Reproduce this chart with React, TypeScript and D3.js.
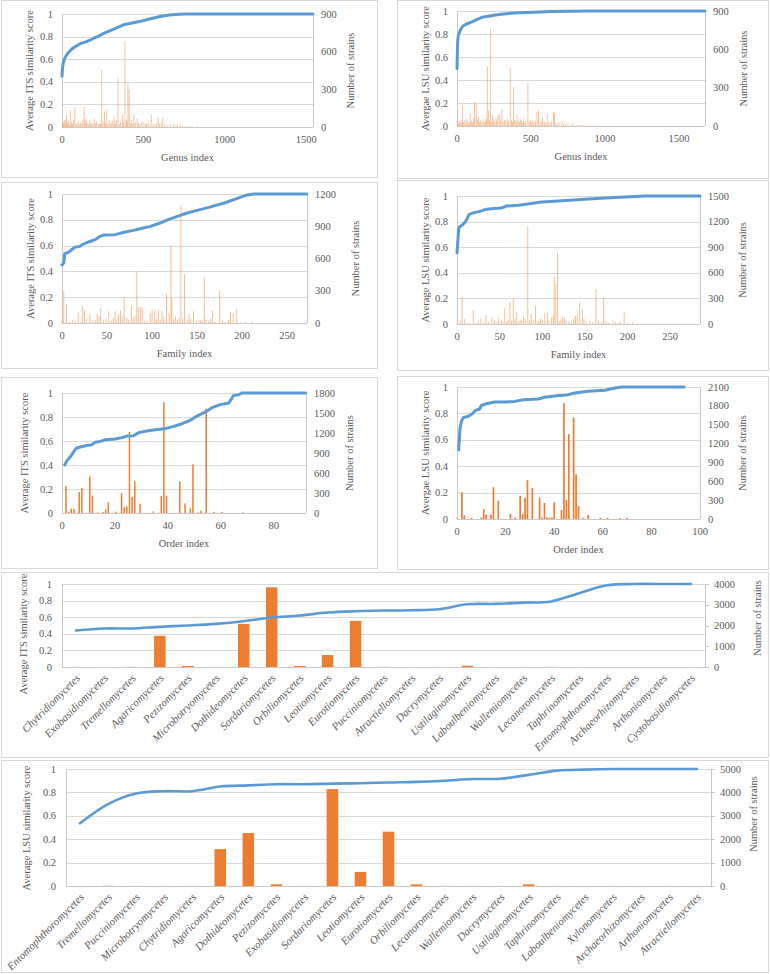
import React from 'react';
import * as d3 from 'd3';

type Pt = [number, number];

// ---------------- DATA ----------------
const genusItsCurve: Pt[] = [[0,0.45],[3,0.52],[8,0.57],[15,0.6],[25,0.63],[40,0.66],[60,0.69],[85,0.715],[116,0.74],[150,0.755],[175,0.77],[200,0.79],[218,0.80],[260,0.83],[300,0.855],[340,0.88],[381,0.905],[430,0.92],[483,0.935],[530,0.953],[564,0.965],[610,0.98],[660,0.992],[720,0.998],[760,1.0],[1542,1.0]];
const genusItsBars: Pt[] = [[3,20],[9,35],[14,56],[18,25],[24,60],[28,96],[33,30],[40,45],[46,15],[51,136],[58,40],[64,25],[70,55],[79,154],[86,20],[92,30],[100,45],[108,20],[115,35],[122,25],[128,60],[136,162],[142,30],[147,69],[152,40],[160,25],[168,50],[175,20],[182,35],[190,25],[198,69],[205,30],[212,45],[225,20],[232,35],[238,25],[244,455],[252,40],[261,122],[268,30],[275,144],[282,25],[290,50],[298,20],[305,35],[312,45],[320,82],[328,30],[335,55],[344,389],[352,25],[360,40],[371,96],[378,35],[387,682],[395,60],[400,45],[405,349],[413,296],[420,30],[428,55],[435,25],[442,104],[450,35],[462,69],[470,30],[480,20],[490,40],[503,43],[512,25],[520,30],[530,35],[548,96],[560,25],[570,20],[580,30],[591,77],[600,25],[610,35],[619,77],[630,20],[650,15],[665,20],[686,24],[700,12],[710,18],[727,29],[740,10],[760,8],[780,6],[800,5],[830,4],[860,3]];

const genusLsuCurve: Pt[] = [[0,0.50],[2,0.62],[4,0.73],[8,0.78],[15,0.81],[25,0.84],[40,0.87],[60,0.885],[101,0.905],[140,0.93],[169,0.945],[210,0.955],[259,0.965],[330,0.976],[416,0.985],[520,0.99],[641,0.995],[780,0.998],[866,1.0],[1676,1.0]];
const genusLsuBars: Pt[] = [[3,30],[8,15],[14,40],[20,25],[27,50],[33,20],[38,154],[45,30],[52,45],[60,20],[66,55],[74,35],[82,25],[90,97],[98,40],[105,30],[112,60],[119,188],[130,175],[137,50],[146,71],[153,35],[160,45],[168,25],[176,55],[184,30],[192,40],[200,60],[205,468],[214,123],[220,45],[227,764],[234,35],[241,84],[248,50],[256,30],[264,60],[270,40],[277,84],[288,92],[295,45],[304,128],[312,30],[320,50],[330,40],[340,60],[348,35],[360,455],[368,45],[375,30],[382,306],[390,50],[398,35],[405,84],[413,40],[420,30],[427,65],[435,45],[442,30],[450,55],[458,25],[466,40],[479,332],[488,35],[496,50],[505,30],[512,45],[520,25],[530,40],[540,110],[551,123],[560,30],[570,35],[578,71],[590,40],[600,25],[610,97],[620,30],[630,20],[640,35],[652,110],[659,97],[668,25],[680,20],[690,30],[709,37],[720,15],[735,12],[750,20],[776,18],[790,10],[810,8],[830,12],[850,6],[870,5],[890,4],[920,3]];

const familyItsCurve: Pt[] = [[0,0.45],[2,0.465],[3,0.537],[7,0.548],[11,0.57],[14,0.587],[20,0.594],[23,0.61],[30,0.63],[37,0.646],[41,0.667],[46,0.682],[59,0.685],[69,0.703],[78,0.716],[87,0.731],[98,0.749],[109,0.775],[117,0.80],[128,0.827],[139,0.853],[150,0.873],[165,0.90],[180,0.93],[194,0.964],[204,0.99],[213,1.0],[272,1.0]];
const familyItsBars: Pt[] = [[0,20],[2,301],[5,180],[8,10],[12,30],[15,20],[18,99],[21,15],[23,161],[25,124],[27,40],[31,78],[34,25],[37,30],[39,84],[41,60],[43,140],[46,25],[49,40],[52,109],[55,20],[57,45],[59,109],[61,30],[63,80],[65,115],[67,60],[69,239],[72,47],[74,30],[77,164],[79,50],[81,70],[83,481],[85,146],[87,146],[89,140],[92,20],[95,15],[98,90],[100,124],[103,115],[105,40],[107,115],[109,30],[111,115],[113,60],[116,273],[119,90],[121,719],[122,226],[124,40],[126,60],[128,30],[130,50],[132,1091],[134,40],[136,456],[139,30],[141,84],[143,40],[146,109],[149,20],[152,25],[154,31],[156,20],[158,425],[160,30],[163,20],[165,40],[167,115],[170,15],[175,301],[178,20],[181,10],[185,30],[187,102],[190,90],[194,133],[198,10],[204,8],[211,16]];

const familyLsuCurve: Pt[] = [[0,0.556],[2,0.745],[3,0.758],[7,0.777],[11,0.81],[14,0.855],[19,0.868],[27,0.88],[33,0.894],[40,0.90],[52,0.906],[58,0.922],[72,0.927],[83,0.938],[99,0.953],[119,0.961],[150,0.974],[174,0.984],[197,0.992],[221,1.0],[285,1.0]];
const familyLsuBars: Pt[] = [[1,15],[4,40],[6,312],[9,58],[12,20],[15,10],[19,164],[22,15],[25,30],[28,66],[31,20],[34,105],[37,25],[41,86],[44,40],[47,30],[49,74],[52,55],[54,25],[56,183],[58,30],[60,45],[62,253],[64,40],[66,292],[68,60],[70,144],[72,30],[74,50],[76,40],[78,97],[80,60],[83,1145],[85,40],[87,117],[89,50],[92,210],[94,40],[96,30],[98,60],[100,50],[103,132],[106,132],[108,40],[111,74],[113,90],[114,553],[116,464],[118,834],[120,30],[122,60],[124,86],[126,70],[128,40],[131,30],[134,20],[137,60],[139,97],[141,113],[144,253],[147,175],[149,60],[152,30],[156,39],[159,20],[163,409],[166,40],[169,20],[172,308],[175,30],[178,15],[183,39],[186,25],[189,20],[192,30],[196,144],[200,10],[206,19],[212,8]];

const orderItsCurve: Pt[] = [[1,0.40],[2,0.44],[3.4,0.475],[4.4,0.51],[5.4,0.54],[6.9,0.55],[8.2,0.556],[9.4,0.564],[11,0.566],[12.6,0.59],[14.5,0.597],[16.4,0.61],[20,0.617],[22.7,0.628],[24.6,0.642],[27,0.644],[29,0.67],[32,0.683],[35.3,0.694],[39,0.703],[42.2,0.722],[45.3,0.744],[48.5,0.772],[51,0.808],[54.2,0.842],[56.7,0.878],[59.8,0.903],[63,0.917],[64.9,0.98],[66.8,0.985],[68,1.0],[92,1.0]];
const orderItsBars: Pt[] = [[1,400],[2,15],[3,65],[4,65],[6,315],[7,375],[10,550],[11,260],[13,10],[15,15],[16,55],[17,160],[19,5],[20,20],[22,300],[23,85],[24,100],[25,1215],[26,240],[27,475],[29,140],[34,25],[36,5],[37,255],[38,1665],[39,260],[44,475],[46,145],[48,70],[49,730],[51,10],[52,35],[54,1565],[57,15],[60,15],[68,10]];

const orderLsuCurve: Pt[] = [[0.7,0.524],[1.2,0.676],[1.8,0.74],[2.7,0.77],[4.5,0.777],[6.2,0.795],[7.6,0.823],[9.3,0.833],[10,0.86],[12.1,0.873],[15.5,0.886],[19.6,0.886],[23.8,0.891],[27.2,0.904],[33.4,0.909],[36.1,0.922],[40.9,0.934],[45.7,0.942],[48.5,0.954],[54,0.967],[60.9,0.975],[65,0.992],[67.7,1.0],[93.5,1.0]];
const orderLsuBars: Pt[] = [[0,10],[2,425],[3,58],[6,21],[10,21],[11,154],[12,69],[14,69],[15,505],[17,292],[22,80],[24,21],[26,367],[27,80],[28,340],[29,617],[31,494],[34,340],[35,21],[36,255],[37,21],[38,21],[39,21],[40,266],[43,144],[44,1845],[45,303],[46,1350],[48,1616],[49,712],[50,207],[52,16],[54,64],[59,21],[62,21],[67,16],[70,16]];

const itsClasses = ['Chytridiomycetes','Exobasidiomycetes','Tremellomycetes','Agaricomycetes','Pezizomycetes','Microbotryomycetes','Dothideomycetes','Sordariomycetes','Orbiliomycetes','Leotiomycetes','Eurotiomycetes','Pucciniomycetes','Atractiellomycetes','Dacrymycetes','Ustilaginomycetes','Laboulbeniomycetes','Wallemiomycetes','Lecanoromycetes','Taphrinomycetes','Entomophthoromycetes','Archaeorhizomycetes','Arthoniomycetes','Cystobasidiomycetes'];
const itsClassScore = [0.44,0.464,0.464,0.484,0.50,0.52,0.552,0.596,0.62,0.656,0.672,0.68,0.684,0.696,0.756,0.76,0.776,0.79,0.89,0.984,1.0,1.0,1.0];
const itsClassStrains = [5,3,8,1504,50,4,2080,3840,50,576,2224,6,2,4,60,2,3,5,2,1,1,1,2];

const lsuClasses = ['Entomophthoromycetes','Tremellomycetes','Pucciniomycetes','Microbotryomycetes','Chytridiomycetes','Agaricomycetes','Dothideomycetes','Pezizomycetes','Exobasidiomycetes','Sordariomycetes','Leotiomycetes','Eurotiomycetes','Orbiliomycetes','Lecanoromycetes','Wallemiomycetes','Dacrymycetes','Ustilaginomycetes','Taphrinomycetes','Laboulbeniomycetes','Xylonomycetes','Archaeorhizomycetes','Arthoniomycetes','Atractiellomycetes'];
const lsuClassScore = [0.536,0.70,0.79,0.81,0.81,0.85,0.86,0.87,0.87,0.875,0.878,0.885,0.89,0.90,0.914,0.917,0.95,0.986,0.995,1.0,1.0,1.0,1.0];
const lsuClassStrains = [1,8,5,3,4,1576,2264,70,2,4140,602,2321,70,5,3,4,70,2,1,1,1,1,1];

const scoreTicks = [0, 0.2, 0.4, 0.6, 0.8, 1];

// ---------------- STYLE ----------------
const FONT = '"Liberation Serif", "Times New Roman", "DejaVu Serif", serif';
const TXT = '#595959';
const GRID = '#D9D9D9';
const AXIS = '#C8C8C8';
const BORDER = '#D9D9D9';
const BLUE = '#5B9BD5';
const ORANGE = '#ED7D31';
const TS: React.CSSProperties = { fontFamily: FONT };

const px = (v: number) => Math.round(v) + 0.5;
const fmt = (v: number) => String(Math.round(v * 10) / 10);

interface IndexCfg {
  box: [number, number, number, number];
  l: number; r: number; t: number; b: number;
  xMax: number; xTicks: number[];
  rightMax: number; rightStep: number;
  leftTitle: string; xTitle: string;
  curve: Pt[]; bars: Pt[];
  barW: number; barOpacity: number; barOffset: number;
  leftTitleX: number; rightTitleX: number;
}

function IndexPanel({ c }: { c: IndexCfg }) {
  const x = d3.scaleLinear().domain([0, c.xMax]).range([c.l, c.r]);
  const yL = d3.scaleLinear().domain([0, 1]).range([c.b, c.t]);
  const yR = d3.scaleLinear().domain([0, c.rightMax]).range([c.b, c.t]);
  const rightTicks = d3.range(0, c.rightMax + 1e-6, c.rightStep);
  const line = d3.line<Pt>().x(d => x(d[0])).y(d => yL(d[1]));
  const cy = (c.t + c.b) / 2;
  return (
    <g fill={TXT}>
      <rect x={c.box[0] + 0.5} y={c.box[1] + 0.5} width={c.box[2]} height={c.box[3]} fill="#fff" stroke={BORDER} />
      {scoreTicks.slice(1).map(v => (
        <line key={v} x1={c.l} x2={c.r} y1={px(yL(v))} y2={px(yL(v))} stroke={GRID} />
      ))}
      <line x1={c.l} x2={c.r} y1={px(c.b)} y2={px(c.b)} stroke={AXIS} />
      <line x1={px(c.l)} x2={px(c.l)} y1={c.t} y2={c.b} stroke={AXIS} />
      <line x1={px(c.r)} x2={px(c.r)} y1={c.t} y2={c.b} stroke={AXIS} />
      {c.bars.map((d, i) => (
        <rect key={i} x={x(d[0] + c.barOffset) - c.barW / 2} y={yR(d[1])} width={c.barW}
          height={Math.max(0, c.b - yR(d[1]))} fill={ORANGE} opacity={c.barOpacity} />
      ))}
      <path d={line(c.curve) || ''} fill="none" stroke={BLUE} strokeWidth={3} strokeLinejoin="round" strokeLinecap="round" />
      {scoreTicks.map(v => (
        <text key={v} style={TS} x={c.l - 9} y={yL(v) + 3.5} textAnchor="end" fontSize={10.5}>{fmt(v)}</text>
      ))}
      {rightTicks.map(v => (
        <text key={v} style={TS} x={c.r + 8} y={yR(v) + 3.5} textAnchor="start" fontSize={10.5}>{v}</text>
      ))}
      {c.xTicks.map(v => (
        <text key={v} style={TS} x={x(v)} y={c.b + 16} textAnchor="middle" fontSize={10.5}>{v}</text>
      ))}
      <text style={TS} x={(c.l + c.r) / 2} y={c.b + 33.5} textAnchor="middle" fontSize={10.5}>{c.xTitle}</text>
      <text style={TS} transform={`translate(${c.leftTitleX},${cy}) rotate(-90)`} textAnchor="middle" dy="0.35em" fontSize={10.5}>{c.leftTitle}</text>
      <text style={TS} transform={`translate(${c.rightTitleX},${cy}) rotate(-90)`} textAnchor="middle" dy="0.35em" fontSize={10.5}>Number of strains</text>
    </g>
  );
}

interface ClassCfg {
  box: [number, number, number, number];
  l: number; r: number; t: number; b: number;
  cats: string[]; score: number[]; strains: number[];
  rightMax: number; rightStep: number;
  leftTitle: string;
  leftTitleX: number; rightTitleX: number; leftTitleCY: number; rightTitleCY: number;
}

function ClassPanel({ c }: { c: ClassCfg }) {
  const x = d3.scaleBand<string>().domain(c.cats).range([c.l, c.r]);
  const bw = x.bandwidth() * 0.41;
  const yL = d3.scaleLinear().domain([0, 1]).range([c.b, c.t]);
  const yR = d3.scaleLinear().domain([0, c.rightMax]).range([c.b, c.t]);
  const rightTicks = d3.range(0, c.rightMax + 1e-6, c.rightStep);
  const pts: Pt[] = c.cats.map((k, i) => [(x(k) as number) + x.bandwidth() / 2, yL(c.score[i])]);
  const line = d3.line<Pt>().x(d => d[0]).y(d => d[1]).curve(d3.curveCatmullRom.alpha(0.5));
  return (
    <g fill={TXT}>
      <rect x={c.box[0] + 0.5} y={c.box[1] + 0.5} width={c.box[2]} height={c.box[3]} fill="#fff" stroke={BORDER} />
      {scoreTicks.slice(1).map(v => (
        <line key={v} x1={c.l} x2={c.r} y1={px(yL(v))} y2={px(yL(v))} stroke={GRID} />
      ))}
      <line x1={c.l} x2={c.r} y1={px(c.b)} y2={px(c.b)} stroke={AXIS} />
      <line x1={px(c.l)} x2={px(c.l)} y1={c.t} y2={c.b} stroke={AXIS} />
      <line x1={px(c.r)} x2={px(c.r)} y1={c.t} y2={c.b} stroke={AXIS} />
      {rightTicks.map(v => (
        <line key={v} x1={c.r} x2={c.r + 4} y1={px(yR(v))} y2={px(yR(v))} stroke={AXIS} />
      ))}
      {c.cats.map((k, i) => (
        <rect key={k} x={(x(k) as number) + x.bandwidth() / 2 - bw / 2} y={yR(c.strains[i])} width={bw}
          height={Math.max(0, c.b - yR(c.strains[i]))} fill={ORANGE} />
      ))}
      <path d={line(pts) || ''} fill="none" stroke={BLUE} strokeWidth={2.6} strokeLinejoin="round" strokeLinecap="round" />
      {scoreTicks.map(v => (
        <text key={v} style={TS} x={c.l - 10} y={yL(v) + 3.5} textAnchor="end" fontSize={10.5}>{fmt(v)}</text>
      ))}
      {rightTicks.map(v => (
        <text key={v} style={TS} x={c.r + 9} y={yR(v) + 3.5} textAnchor="start" fontSize={10.5}>{v}</text>
      ))}
      {c.cats.map(k => (
        <text key={k} style={TS} transform={`translate(${(x(k) as number) + x.bandwidth() / 2 + 2},${c.b + 9}) rotate(-45)`}
          textAnchor="end" dy="0.35em" fontSize={11} fontStyle="italic">{k}</text>
      ))}
      <text style={TS} transform={`translate(${c.leftTitleX},${c.leftTitleCY}) rotate(-90)`} textAnchor="middle" dy="0.35em" fontSize={10.5}>{c.leftTitle}</text>
      <text style={TS} transform={`translate(${c.rightTitleX},${c.rightTitleCY}) rotate(-90)`} textAnchor="middle" dy="0.35em" fontSize={10.5}>Number of strains</text>
    </g>
  );
}

const panels: IndexCfg[] = [
  { box: [1, 0, 376, 177], l: 62, r: 313, t: 14, b: 127, xMax: 1542, xTicks: [0, 500, 1000, 1500],
    rightMax: 900, rightStep: 300, leftTitle: 'Average ITS similarity score', xTitle: 'Genus index',
    curve: genusItsCurve, bars: genusItsBars, barW: 0.9, barOpacity: 0.5, barOffset: 0, leftTitleX: 29, rightTitleX: 350 },
  { box: [397, 0, 371, 178], l: 457, r: 705, t: 11, b: 126, xMax: 1676, xTicks: [0, 500, 1000, 1500],
    rightMax: 900, rightStep: 300, leftTitle: 'Avergae LSU similarity score', xTitle: 'Genus index',
    curve: genusLsuCurve, bars: genusLsuBars, barW: 0.9, barOpacity: 0.5, barOffset: 0, leftTitleX: 425, rightTitleX: 743 },
  { box: [1, 182, 376, 186], l: 62, r: 307, t: 194, b: 323, xMax: 272, xTicks: [0, 50, 100, 150, 200, 250],
    rightMax: 1200, rightStep: 300, leftTitle: 'Average ITS similarity score', xTitle: 'Family index',
    curve: familyItsCurve, bars: familyItsBars, barW: 0.9, barOpacity: 0.55, barOffset: 0, leftTitleX: 30, rightTitleX: 355 },
  { box: [397, 180, 371, 190], l: 457, r: 700, t: 196, b: 324, xMax: 285, xTicks: [0, 50, 100, 150, 200, 250],
    rightMax: 1500, rightStep: 300, leftTitle: 'Average LSU similarity score', xTitle: 'Family index',
    curve: familyLsuCurve, bars: familyLsuBars, barW: 0.9, barOpacity: 0.55, barOffset: 0, leftTitleX: 425, rightTitleX: 742 },
  { box: [1, 377, 376, 191], l: 62, r: 306, t: 393, b: 513, xMax: 92.2, xTicks: [0, 20, 40, 60, 80],
    rightMax: 1800, rightStep: 300, leftTitle: 'Average ITS similarity score', xTitle: 'Order index',
    curve: orderItsCurve, bars: orderItsBars, barW: 1.5, barOpacity: 1, barOffset: 0.5, leftTitleX: 24, rightTitleX: 349 },
  { box: [397, 376, 371, 193], l: 457, r: 700, t: 387, b: 519, xMax: 100, xTicks: [0, 20, 40, 60, 80, 100],
    rightMax: 2100, rightStep: 300, leftTitle: 'Avergae LSU similarity score', xTitle: 'Order index',
    curve: orderLsuCurve, bars: orderLsuBars, barW: 1.7, barOpacity: 1, barOffset: 0, leftTitleX: 425, rightTitleX: 742 },
];

const classPanels: ClassCfg[] = [
  { box: [1, 572, 767, 185], l: 62, r: 705, t: 584, b: 667, cats: itsClasses, score: itsClassScore, strains: itsClassStrains,
    rightMax: 4000, rightStep: 1000, leftTitle: 'Average ITS similarity score', leftTitleX: 23, rightTitleX: 757, leftTitleCY: 634, rightTitleCY: 618 },
  { box: [1, 760, 767, 212], l: 66, r: 711, t: 769, b: 886, cats: lsuClasses, score: lsuClassScore, strains: lsuClassStrains,
    rightMax: 5000, rightStep: 1000, leftTitle: 'Average LSU similarity score', leftTitleX: 26, rightTitleX: 753, leftTitleCY: 828, rightTitleCY: 814 },
];

export default function App() {
  return (
    <svg width={770} height={974} viewBox="0 0 770 974"
      style={{ position: 'absolute', left: 0, top: 0, display: 'block', background: '#fff', fontFamily: FONT }}>
      <rect x={0} y={0} width={770} height={974} fill="#fff" />
      {panels.map((c, i) => <IndexPanel key={i} c={c} />)}
      {classPanels.map((c, i) => <ClassPanel key={i} c={c} />)}
    </svg>
  );
}
